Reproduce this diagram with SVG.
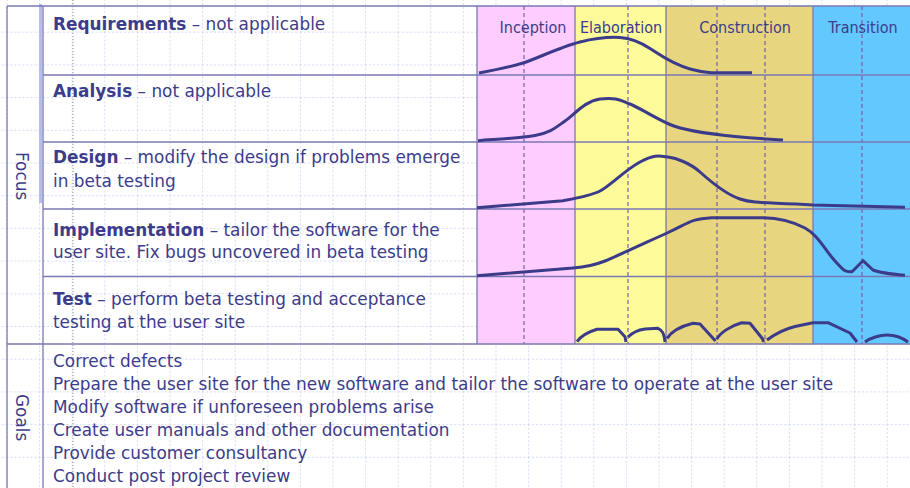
<svg xmlns="http://www.w3.org/2000/svg" width="910" height="488" viewBox="0 0 910 488">
<defs>
<pattern id="grid" patternUnits="userSpaceOnUse" x="6.5" y="-1" width="32.6" height="32.7">
<path d="M0,0.5 H32.6 M0.5,0 V32.7" fill="none" stroke="#d4dcf6" stroke-width="1" stroke-dasharray="2,2"/>
</pattern>
<style>
.t{font-family:"DejaVu Sans",sans-serif;font-size:16.9px;fill:#3c3c8a}
.b{font-weight:bold}
.ph{font-family:"DejaVu Sans",sans-serif;font-stretch:condensed;font-size:16px;fill:#3c3c8a;text-anchor:middle}
.sep{stroke:#7a78b4;stroke-width:1.3;fill:none}
.dash{stroke:#7860a8;stroke-width:1.2;stroke-dasharray:4,3;fill:none}
.crv{stroke:#3b3b8a;stroke-width:3;fill:none;stroke-linejoin:round;stroke-linecap:butt}
</style>
</defs>
<rect width="910" height="488" fill="#ffffff"/>
<rect width="910" height="488" fill="url(#grid)"/>
<line x1="73" y1="0" x2="73" y2="488" stroke="#8c8c8c" stroke-width="1" stroke-dasharray="1,2"/>
<g id="phases">
<rect x="477" y="6" width="98" height="338" fill="#ffccff"/>
<rect x="575" y="6" width="91" height="338" fill="#fdfb99"/>
<rect x="666" y="6" width="147" height="338" fill="#e8d580"/>
<rect x="813" y="6" width="97" height="338" fill="#63c8fe"/>
<line class="dash" x1="524" y1="6" x2="524" y2="344"/>
<line class="dash" x1="628" y1="6" x2="628" y2="344"/>
<line class="dash" x1="717" y1="6" x2="717" y2="344"/>
<line class="dash" x1="765" y1="6" x2="765" y2="344"/>
<line class="dash" x1="862" y1="6" x2="862" y2="344"/>
<line class="sep" x1="575" y1="6" x2="575" y2="344"/>
<line class="sep" x1="666" y1="6" x2="666" y2="344"/>
<line class="sep" x1="813" y1="6" x2="813" y2="344"/>
<text class="ph" x="533" y="33">Inception</text>
<text class="ph" x="621" y="33">Elaboration</text>
<text class="ph" x="745" y="33">Construction</text>
<text class="ph" x="863" y="33">Transition</text>
</g>
<g id="frame">
<rect x="39" y="4" width="3" height="199" fill="#b4bcf2"/>
<line class="sep" x1="7" y1="6" x2="910" y2="6"/>
<line class="sep" x1="7" y1="6" x2="7" y2="488"/>
<line class="sep" x1="43" y1="6" x2="43" y2="488"/>
<line class="sep" x1="477" y1="6" x2="477" y2="344"/>
<line class="sep" x1="43" y1="75" x2="910" y2="75"/>
<line class="sep" x1="43" y1="142" x2="910" y2="142"/>
<line class="sep" x1="43" y1="209" x2="910" y2="209"/>
<line class="sep" x1="43" y1="276.5" x2="910" y2="276.5"/>
<line class="sep" x1="7" y1="344" x2="910" y2="344"/>
</g>
<g id="labels">
<text class="t" transform="translate(16,152) rotate(90)">Focus</text>
<text class="t" transform="translate(16,394) rotate(90)">Goals</text>
</g>
<g id="requirements">
<text class="t" x="53" y="30"><tspan class="b">Requirements</tspan> – not applicable</text>
</g>
<g id="analysis">
<text class="t" x="53" y="97"><tspan class="b">Analysis</tspan> – not applicable</text>
</g>
<g id="design">
<text class="t" x="53" y="163"><tspan class="b">Design</tspan> – modify the design if problems emerge</text>
<text class="t" x="53" y="186.5">in beta testing</text>
</g>
<g id="implementation">
<text class="t" x="53" y="235.5"><tspan class="b">Implementation</tspan> – tailor the software for the</text>
<text class="t" x="53" y="258">user site. Fix bugs uncovered in beta testing</text>
</g>
<g id="test">
<text class="t" x="53" y="305"><tspan class="b">Test</tspan> – perform beta testing and acceptance</text>
<text class="t" x="53" y="327.5">testing at the user site</text>
</g>
<g id="goals">
<text class="t" x="53" y="367.3">Correct defects</text>
<text class="t" x="53" y="390">Prepare the user site for the new software and tailor the software to operate at the user site</text>
<text class="t" x="53" y="412.8">Modify software if unforeseen problems arise</text>
<text class="t" x="53" y="435.7">Create user manuals and other documentation</text>
<text class="t" x="53" y="458.6">Provide customer consultancy</text>
<text class="t" x="53" y="481.5">Conduct post project review</text>
</g>
<g id="curves">
<path class="crv" d="M479,73 C495,70 510,67 523,63 S560,47 580,42 S610,37 620,37.5 S640,42 650,48.5 S672,64 690,69 S715,72.7 752,72.7"/>
<path class="crv" d="M478,140.7 C500,139 520,138 535,135.5 S555,128 565,121 S585,101 600,99 S620,100 630,104 S655,118 670,124.5 S710,134 735,136.5 S770,139 783,140"/>
<path class="crv" d="M477,207.7 L563,200.7 C575,198.5 590,196 600,191 S625,170 640,162 S660,156 668,157 S690,163 700,172 S725,194 740,199 S770,202 813,205 L905,207.3"/>
<path class="crv" d="M477,275.7 L573,268 C585,267 595,265 605,261 S645,243 667,233 S690,219 712,217.7 L763,217.7 C778,218 792,221 805,228 S825,250 835,261 S845,272 852,271.7 L863,260.7 L873,270 C880,273 890,274 905,275.3"/>
<path class="crv" d="M577,341.7 C581,336 588,332 597,329.3 L618,329.3 L625,336.7 L626,342"/>
<path class="crv" d="M628,337 C633,332 638,330 645,329 L658,328.3 C662,330 664,333 665,342"/>
<path class="crv" d="M667,338.3 C672,331 682,326 693,323.3 L700,324 L715.5,341"/>
<path class="crv" d="M716.7,339.3 C720,333 730,326 741.7,322.7 L750,323.3 L762.7,339 L763.5,342"/>
<path class="crv" d="M767,340 C775,334 785,329 795,326.5 L813,322.7 L828,322.7 L850,333 L857,342"/>
<path class="crv" d="M865,342 C870,338 880,335 887,335 S900,336 908,342"/>
</g>
</svg>
